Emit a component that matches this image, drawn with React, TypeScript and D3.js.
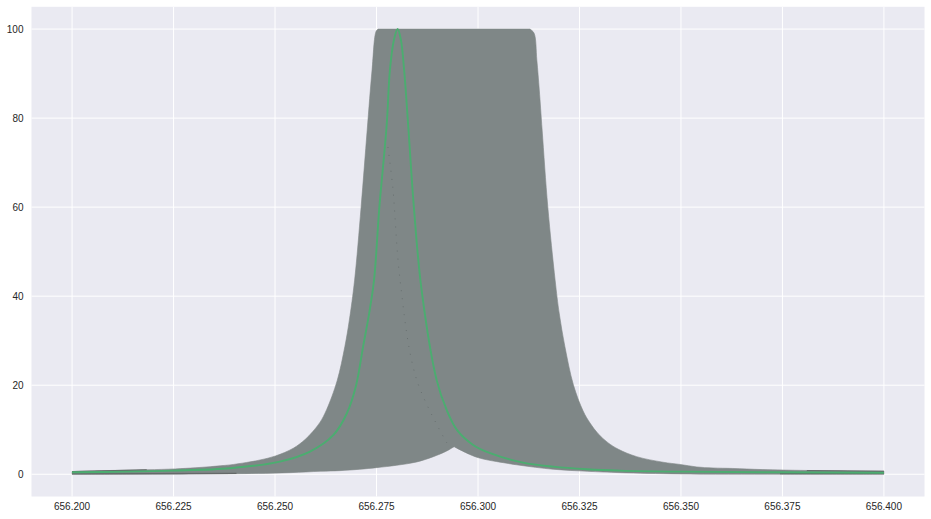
import React from "react";
import * as d3 from "d3";

const W = 931;
const H = 519;

const xTicks = [656.2, 656.225, 656.25, 656.275, 656.3, 656.325, 656.35, 656.375, 656.4];
const yTicks = [0, 20, 40, 60, 80, 100];

// Outer envelope of the fan of profiles: left flank, then right flank
const upperLeftX = [
  656.2, 656.2073, 656.2184, 656.2254, 656.2303, 656.234, 656.2372, 656.2389, 656.243, 656.2463,
  656.2501, 656.2545, 656.2574, 656.2593, 656.2611, 656.2627, 656.2653, 656.2672, 656.2683, 656.2696,
  656.2712, 656.2727, 656.2739, 656.2749, 656.2754,
];
const upperLeftY = [
  0.6, 0.8, 1.0, 1.2, 1.45, 1.7, 1.95, 2.1, 2.65, 3.2,
  4.1, 5.84, 7.8, 9.6, 11.7, 14.5, 21, 28.7, 34.6, 43.6,
  60, 77.3, 90.8, 99.5, 100,
];
const upperRightX = [
  656.3128, 656.3138, 656.3145, 656.3151, 656.3158, 656.3172, 656.319, 656.32, 656.3214, 656.3235,
  656.3259, 656.3276, 656.3296, 656.332, 656.3346, 656.3391, 656.3456, 656.3498, 656.3539, 656.3579,
  656.3628, 656.37, 656.381, 656.4,
];
const upperRightY = [
  100, 99.1, 93, 86.3, 77.3, 60, 43.6, 36.2, 28.7, 20.1,
  14.2, 11.5, 9.1, 7.1, 5.6, 3.95, 2.7, 2.2, 1.64, 1.41,
  1.3, 1.05, 0.85, 0.7,
];

// Lower envelope, right to left, as far as the notch where the two flanks cross
const lowerRightX = [
  656.4, 656.3744, 656.3498, 656.335, 656.3269, 656.3185, 656.3103, 656.3071, 656.2997, 656.2941,
];
const lowerRightY = [0, 0, 0.07, 0.36, 0.67, 1.12, 2.02, 2.47, 3.82, 6.2];
const lowerLeftX = [
  656.2941, 656.2923, 656.289, 656.2849, 656.28, 656.275, 656.2709, 656.266, 656.2611, 656.2537,
  656.2405, 656.2135, 656.2,
];
const lowerLeftY = [6.2, 5.23, 3.95, 2.76, 2.02, 1.48, 1.12, 0.81, 0.67, 0.36, 0.13, 0, 0];

// Highlighted green profile
const greenX = [
  656.2, 656.2135, 656.2249, 656.2389, 656.2512, 656.2586, 656.2644, 656.2677, 656.2699, 656.2717,
  656.2732, 656.2744, 656.2757, 656.2775, 656.2783, 656.2793, 656.2802, 656.281, 656.2818, 656.2828,
  656.2842, 656.2861, 656.2898, 656.2923, 656.2948, 656.2988, 656.303, 656.3111, 656.3185, 656.3269,
  656.335, 656.3498, 656.4,
];
const greenY = [
  0.45, 0.58, 0.81, 1.35, 2.83, 5.08, 8.83, 13.7, 19.7, 28.7,
  36.2, 43.7, 60, 78.4, 90.8, 97.6, 100, 97.6, 90.8, 78.4,
  60, 41.4, 21.2, 14.4, 9.95, 6.58, 4.72, 2.6, 1.7, 1.12,
  0.81, 0.58, 0.34,
];

// Faint dark trace visible inside the fan
const traceX = [656.2778, 656.279, 656.2808, 656.2849, 656.2926];
const traceY = [73.5, 64.5, 43.6, 21.2, 6.6];

// Darker narrow tails of the fan
const tailLeftX = [656.2, 656.2405];
const tailLeftY = [0.1, 0.2];
const tailRightX = [656.3744, 656.4];
const tailRightY = [0.12, 0.12];
const tailTopRightX = [656.381, 656.4];
const tailTopRightY = [0.8, 0.66];
const tailTopLeftX = [656.2, 656.2184];
const tailTopLeftY = [0.6, 1.0];

const FONT = '"Liberation Sans", Arial, sans-serif';

export default function App() {
  const x = d3.scaleLinear().domain([656.19, 656.41]).range([31.5, 924.5]);
  const y = d3.scaleLinear().domain([-5, 105]).range([496.5, 6.8]);

  type P = [number, number];
  const zip = (a: number[], b: number[]): P[] => a.map((v, i) => [v, b[i]] as P);
  const line = d3.line<P>().x((d) => x(d[0])).y((d) => y(d[1]));
  const smooth = d3.line<P>().x((d) => x(d[0])).y((d) => y(d[1])).curve(d3.curveCatmullRom.alpha(0.5));

  const fan =
    (smooth(zip(upperLeftX, upperLeftY)) as string) +
    "L" +
    (smooth(zip(upperRightX, upperRightY)) as string).slice(1) +
    "L" +
    (smooth(zip(lowerRightX, lowerRightY)) as string).slice(1) +
    "L" +
    (smooth(zip(lowerLeftX, lowerLeftY)) as string).slice(1) +
    "Z";

  const tails: P[][] = [
    zip(tailLeftX, tailLeftY),
    zip(tailRightX, tailRightY),
    zip(tailTopRightX, tailTopRightY),
    zip(tailTopLeftX, tailTopLeftY),
  ];

  return (
    <svg
      width={W}
      height={H}
      style={{ position: "fixed", left: 0, top: 0, display: "block", background: "#ffffff" }}
    >
      <rect x={31.5} y={6.8} width={893} height={489.7} fill="#EAEAF2" />
      {xTicks.map((t) => (
        <line key={t} x1={x(t)} x2={x(t)} y1={6.8} y2={496.5} stroke="#ffffff" strokeWidth={1} />
      ))}
      {yTicks.map((t) => (
        <line key={t} x1={31.5} x2={924.5} y1={y(t)} y2={y(t)} stroke="#ffffff" strokeWidth={1} />
      ))}

      <path d={fan} fill="#7F8787" stroke="#7F8787" strokeWidth={0.6} strokeLinejoin="round" />
      {tails.map((t, i) => (
        <path key={i} d={line(t) as string} fill="none" stroke="#656A6A" strokeWidth={1.2} />
      ))}
      <path
        d={smooth(zip(traceX, traceY)) as string}
        fill="none"
        stroke="#687070"
        strokeWidth={1}
        strokeDasharray="1 7"
      />
      <path
        d={smooth(zip(greenX, greenY)) as string}
        fill="none"
        stroke="#4BAD70"
        strokeWidth={1.9}
        strokeLinejoin="round"
      />

      {xTicks.map((t) => (
        <text
          key={t}
          x={x(t)}
          y={509.5}
          textAnchor="middle"
          fontFamily={FONT}
          fontSize={10}
          fill="#262626"
        >
          {t.toFixed(3)}
        </text>
      ))}
      {yTicks.map((t) => (
        <text
          key={t}
          x={23.5}
          y={y(t) + 3.5}
          textAnchor="end"
          fontFamily={FONT}
          fontSize={10}
          fill="#262626"
        >
          {t}
        </text>
      ))}
    </svg>
  );
}
